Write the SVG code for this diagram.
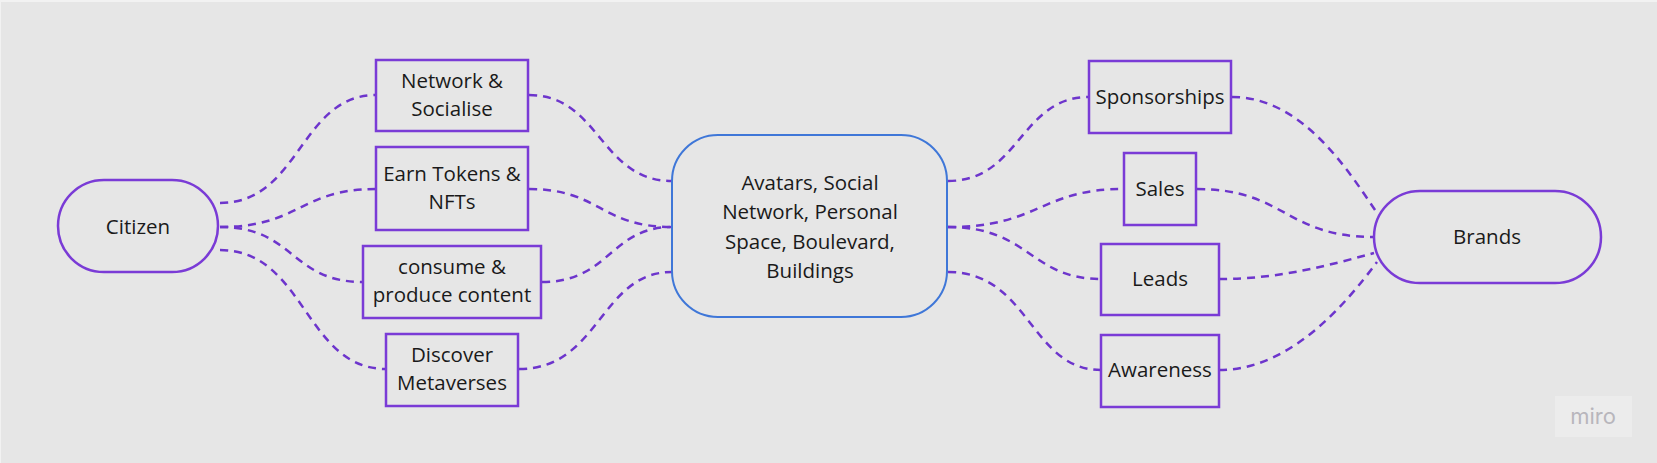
<svg xmlns="http://www.w3.org/2000/svg" width="1657" height="463" viewBox="0 0 1657 463">
<style>
.bg{fill:#e6e6e6}
.node{fill:none;stroke:#7a3bd6;stroke-width:2.5}
.center{fill:none;stroke:#3f77d8;stroke-width:2}
.lbl{font-family:"Open Sans","Liberation Sans",sans-serif;font-size:20.5px;fill:#1a1a1a;text-anchor:middle;dominant-baseline:central}
.conn path{fill:none;stroke:#6d35cc;stroke-width:2.5;stroke-dasharray:8 6}
</style>
<rect x="0" y="0" width="1657" height="463" fill="#f2f2f2"/>
<rect class="bg" x="1" y="2" width="1656" height="461"/>
<g class="conn" id="connectors">
<path d="M220 203 C300 203 300 95 376 95"/>
<path d="M220 227 C300 227 300 189 376 189"/>
<path d="M220 227 C295 227 290 282 363 282"/>
<path d="M220 250 C305 250 305 369 386 369"/>
<path d="M529 95 C600 95 600 181 672 181"/>
<path d="M529 189 C600 189 600 227 672 227"/>
<path d="M542 282 C610 282 610 227 672 227"/>
<path d="M519 369 C600 369 600 272 672 272"/>
<path d="M948 181 C1020 181 1020 97 1089 97"/>
<path d="M948 227 C1040 227 1040 189 1124 189"/>
<path d="M948 227 C1030 227 1030 279 1101 279"/>
<path d="M948 272 C1030 272 1030 370 1101 370"/>
<path d="M1232 97 C1300 97 1345 165 1377 213"/>
<path d="M1197 189 C1285 189 1285 237 1374 237"/>
<path d="M1219 279 C1280 279 1330 265 1374 253"/>
<path d="M1219 370 C1290 370 1345 305 1377 262"/>
</g>
<g id="citizen">
<rect class="node" x="58" y="180" width="160" height="92" rx="46"/>
<text class="lbl" x="138" y="226">Citizen</text>
</g>
<g id="network">
<rect class="node" x="376" y="60" width="152" height="71"/>
<text class="lbl" x="452" y="80">Network &amp;</text>
<text class="lbl" x="452" y="108">Socialise</text>
</g>
<g id="earn">
<rect class="node" x="376" y="147" width="152" height="83"/>
<text class="lbl" x="452" y="173">Earn Tokens &amp;</text>
<text class="lbl" x="452" y="201">NFTs</text>
</g>
<g id="consume">
<rect class="node" x="363" y="246" width="178" height="72"/>
<text class="lbl" x="452" y="266">consume &amp;</text>
<text class="lbl" x="452" y="294">produce content</text>
</g>
<g id="discover">
<rect class="node" x="386" y="334" width="132" height="72"/>
<text class="lbl" x="452" y="354">Discover</text>
<text class="lbl" x="452" y="382">Metaverses</text>
</g>
<g id="hub">
<rect class="center" x="672" y="135" width="275" height="182" rx="46"/>
<text class="lbl" x="810" y="182">Avatars, Social</text>
<text class="lbl" x="810" y="211">Network, Personal</text>
<text class="lbl" x="810" y="241">Space, Boulevard,</text>
<text class="lbl" x="810" y="270">Buildings</text>
</g>
<g id="sponsorships">
<rect class="node" x="1089" y="61" width="142" height="72"/>
<text class="lbl" x="1160" y="96">Sponsorships</text>
</g>
<g id="sales">
<rect class="node" x="1124" y="153" width="72" height="72"/>
<text class="lbl" x="1160" y="188">Sales</text>
</g>
<g id="leads">
<rect class="node" x="1101" y="244" width="118" height="71"/>
<text class="lbl" x="1160" y="278">Leads</text>
</g>
<g id="awareness">
<rect class="node" x="1101" y="335" width="118" height="72"/>
<text class="lbl" x="1160" y="369">Awareness</text>
</g>
<g id="brands">
<rect class="node" x="1374" y="191" width="227" height="92" rx="46"/>
<text class="lbl" x="1487" y="236">Brands</text>
</g>
<g id="watermark">
<rect x="1555" y="396" width="77" height="41" fill="#ececec"/>
<text x="1593" y="416" font-family="Inter,'Open Sans',sans-serif" font-size="22" fill="#b8b6bc" text-anchor="middle" dominant-baseline="central">miro</text>
</g>
</svg>
